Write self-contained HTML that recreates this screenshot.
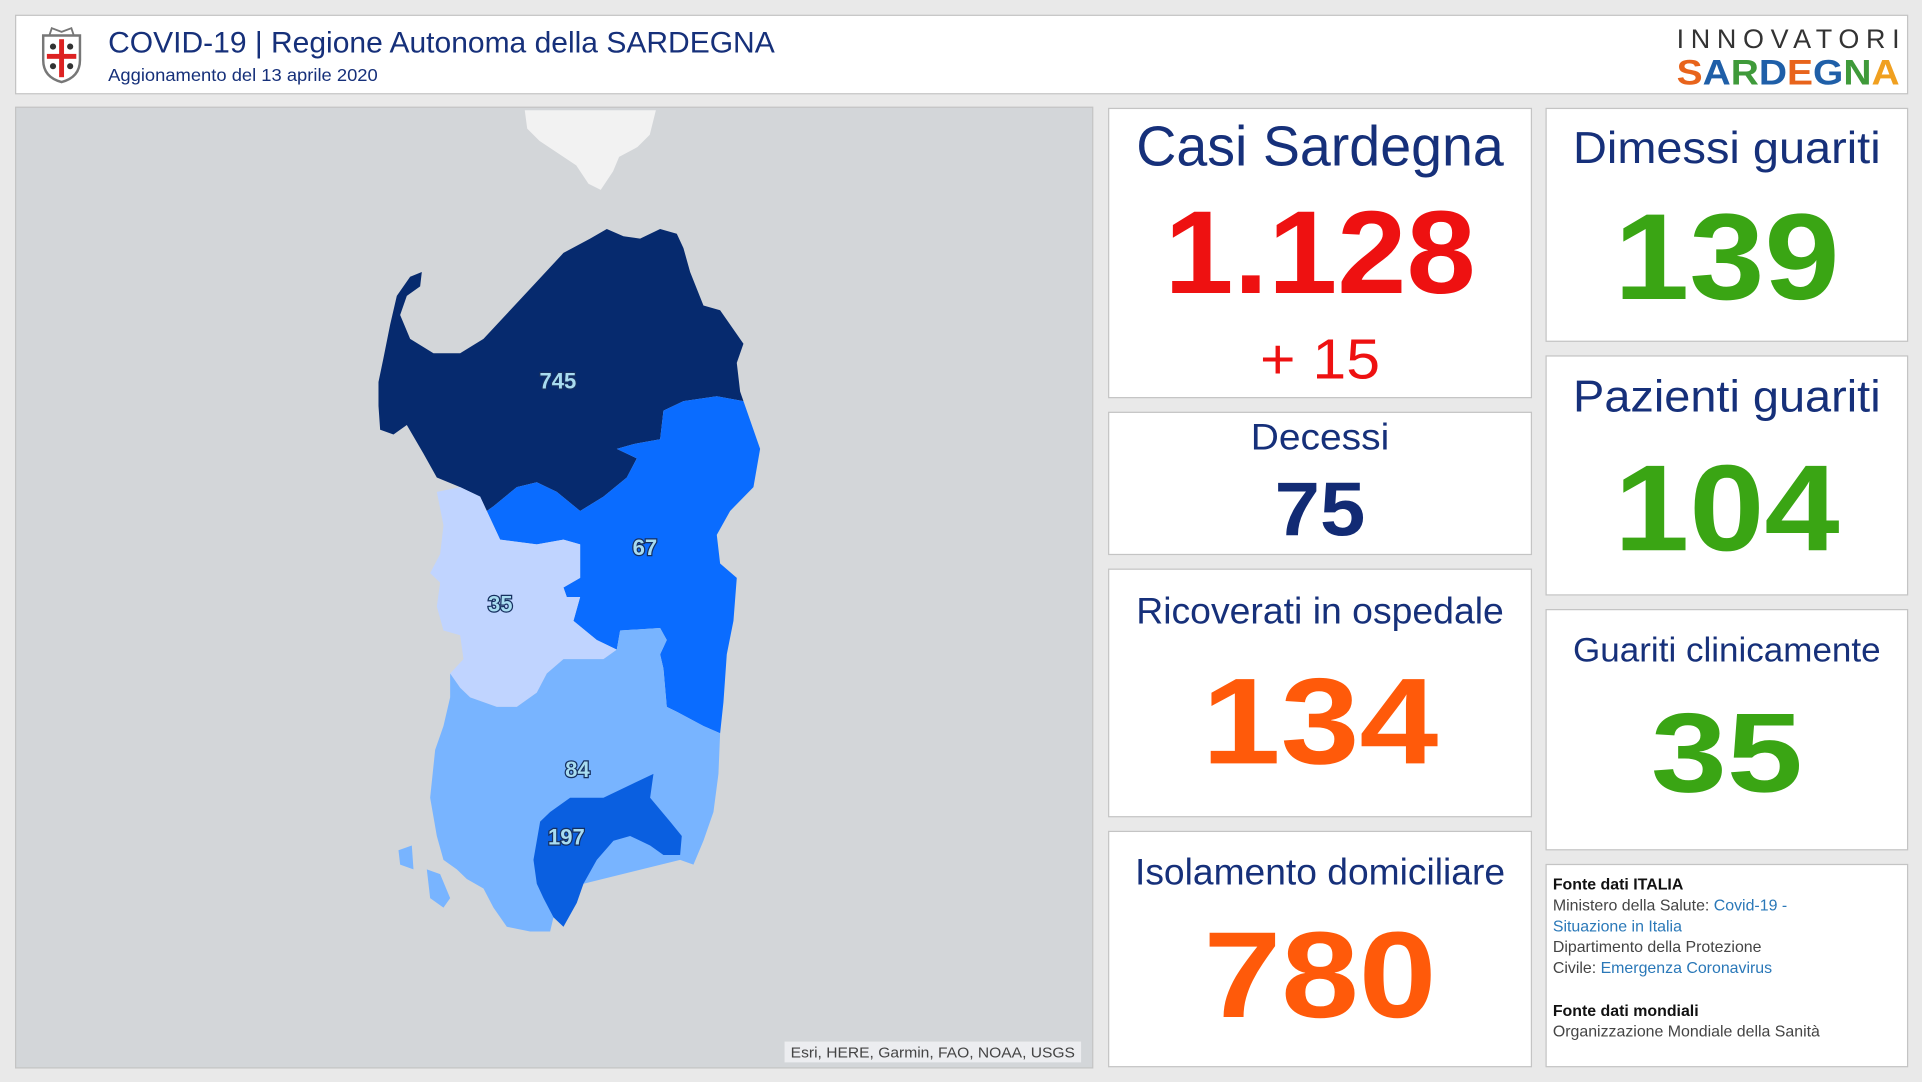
<!DOCTYPE html>
<html><head><meta charset="utf-8"><style>
html,body{margin:0;padding:0;background:#e9e9e9;overflow:hidden}
svg{display:block}
text{font-family:"Liberation Sans",sans-serif}
</style></head><body>
<svg width="1922" height="1082" viewBox="0 0 1568 883" xmlns="http://www.w3.org/2000/svg">
<rect width="1568" height="883" fill="#e9e9e9"/>
<rect x="12.5" y="12.5" width="1544" height="64" fill="#fff" stroke="#c4c4c4"/>
<g transform="translate(50,45)">
<path d="M-15,-16 L15,-16 L15,4 Q15,18 0,22 Q-15,18 -15,4 Z" fill="#fff" stroke="#777" stroke-width="2"/>
<rect x="-2" y="-13" width="4" height="31" fill="#d22"/><rect x="-12" y="-1" width="24" height="4" fill="#d22"/>
<circle cx="-7" cy="-7" r="2.5" fill="#333"/><circle cx="7" cy="-7" r="2.5" fill="#333"/><circle cx="-7" cy="9" r="2.5" fill="#333"/><circle cx="7" cy="9" r="2.5" fill="#333"/>
<path d="M-10,-16 L-8,-22 L0,-19 L8,-22 L10,-16" fill="none" stroke="#777" stroke-width="1.5"/>
</g>
<text x="88" y="43" font-size="24" fill="#16307a" textLength="544" lengthAdjust="spacingAndGlyphs">COVID-19 | Regione Autonoma della SARDEGNA</text>
<text x="88" y="66" font-size="14" fill="#16307a" textLength="220" lengthAdjust="spacingAndGlyphs">Aggionamento del 13 aprile 2020</text>
<text x="1368" y="39" font-size="22" fill="#333" textLength="182" lengthAdjust="spacing">INNOVATORI</text>
<text x="1368" y="69" font-size="29" font-weight="bold" textLength="182" lengthAdjust="spacingAndGlyphs"><tspan fill="#e8641c">S</tspan><tspan fill="#1f5fa8">A</tspan><tspan fill="#3f9a3a">R</tspan><tspan fill="#1f5fa8">D</tspan><tspan fill="#e8641c">E</tspan><tspan fill="#1f5fa8">G</tspan><tspan fill="#3f9a3a">N</tspan><tspan fill="#f0a020">A</tspan></text>
<rect x="12.5" y="87.5" width="879" height="784" fill="#d3d6d9" stroke="#c4c4c4"/>
<path d="M428,90 L535,90 L530,110 L520,120 L505,128 L500,140 L490,155 L480,150 L470,135 L455,125 L440,115 L430,105 Z" fill="#f2f2f2"/>
<g transform="translate(285.5,163.5) scale(0.272,0.39)">
<path fill="#062a6e" d="M85,380 L100,330 L120,260 L140,200 L180,160 L215,150 L210,180 L170,200 L150,240 L180,290 L250,320 L330,320 L400,290 L480,230 L560,170 L640,110 L720,80 L770,60 L820,75 L870,80 L930,60 L980,70 L1000,100 L1020,150 L1060,220 L1110,230 L1150,270 L1180,300 L1160,340 L1170,400 L1180,420 L1100,410 L1000,420 L940,440 L930,500 L850,510 L800,520 L860,540 L830,580 L760,620 L690,650 L620,610 L560,590 L500,600 L430,640 L410,650 L390,620 L330,600 L260,580 L220,530 L170,470 L130,490 L90,480 L85,430 Z"/>
<path fill="#0a6cff" d="M1100,410 L1180,420 L1210,480 L1230,520 L1210,600 L1140,650 L1100,700 L1110,760 L1160,790 L1150,880 L1130,950 L1120,1050 L1110,1115 L1060,1100 L980,1070 L950,1060 L940,980 L930,950 L950,920 L930,895 L810,900 L800,940 L740,920 L670,880 L690,830 L650,830 L640,810 L690,790 L690,720 L640,710 L560,720 L450,710 L410,650 L430,640 L500,600 L560,590 L620,610 L690,650 L760,620 L830,580 L860,540 L800,520 L850,510 L930,500 L940,440 L1000,420 Z"/>
<path fill="#c0d4ff" d="M260,610 L330,600 L390,620 L410,650 L450,710 L560,720 L640,710 L690,720 L690,790 L640,810 L650,830 L690,830 L670,880 L740,920 L800,940 L760,960 L700,960 L640,960 L590,990 L560,1030 L500,1060 L440,1060 L360,1040 L330,1020 L300,990 L340,960 L330,910 L280,900 L260,850 L270,800 L240,780 L270,740 L280,680 Z"/>
<path fill="#78b4ff" d="M300,990 L330,1020 L360,1040 L440,1060 L500,1060 L560,1030 L590,990 L640,960 L700,960 L760,960 L800,940 L810,900 L930,895 L950,920 L930,950 L940,980 L950,1060 L980,1070 L1060,1100 L1110,1115 L1105,1200 L1090,1280 L1060,1340 L1030,1390 L990,1380 L700,1430 L640,1520 L610,1500 L600,1530 L540,1530 L470,1520 L430,1480 L400,1440 L350,1420 L320,1400 L280,1380 L260,1330 L240,1250 L255,1150 L280,1100 L300,1040 Z"/>
<path fill="#0a5fe0" d="M550,1380 L570,1300 L600,1280 L660,1250 L760,1250 L850,1220 L910,1200 L900,1250 L960,1300 L995,1330 L990,1370 L940,1370 L900,1350 L840,1330 L790,1340 L740,1380 L700,1430 L680,1470 L640,1520 L610,1500 L580,1460 L560,1430 Z"/>
<path fill="#78b4ff" d="M145,1360 L185,1350 L190,1400 L150,1390 Z M230,1400 L270,1410 L300,1460 L280,1480 L240,1460 Z"/>
</g>
<g font-size="18" font-weight="bold" fill="#a8dcf0" stroke="#163060" stroke-width="2" paint-order="stroke" text-anchor="middle">
<text x="455" y="317">745</text><text x="526" y="453">67</text><text x="408" y="499">35</text><text x="471" y="634">84</text><text x="462" y="689">197</text>
</g>
<rect x="640" y="850" width="242" height="17" fill="#eef0f2" opacity="0.9"/>
<text x="645" y="863" font-size="12" fill="#444" textLength="232" lengthAdjust="spacingAndGlyphs">Esri, HERE, Garmin, FAO, NOAA, USGS</text>
<g fill="#fff" stroke="#c4c4c4">
<rect x="904.5" y="88.5" width="345" height="236"/>
<rect x="904.5" y="336.5" width="345" height="116"/>
<rect x="904.5" y="464.5" width="345" height="202"/>
<rect x="904.5" y="678.5" width="345" height="192"/>
<rect x="1261.5" y="88.5" width="295" height="190"/>
<rect x="1261.5" y="290.5" width="295" height="195"/>
<rect x="1261.5" y="497.5" width="295" height="196"/>
<rect x="1261.5" y="705.5" width="295" height="165"/>
</g>
<g text-anchor="middle">
<text x="1077" y="135" font-size="46" fill="#16307a" textLength="300" lengthAdjust="spacingAndGlyphs">Casi Sardegna</text>
<text x="1077" y="239" font-size="96" font-weight="bold" fill="#ee1111" textLength="254" lengthAdjust="spacingAndGlyphs">1.128</text>
<text x="1077" y="309" font-size="46" fill="#ee1111" textLength="98" lengthAdjust="spacingAndGlyphs">+ 15</text>
<text x="1077" y="367" font-size="30" fill="#16307a" textLength="113" lengthAdjust="spacingAndGlyphs">Decessi</text>
<text x="1077" y="437" font-size="62" font-weight="bold" fill="#122b74" textLength="74" lengthAdjust="spacingAndGlyphs">75</text>
<text x="1077" y="509" font-size="30" fill="#16307a" textLength="300" lengthAdjust="spacingAndGlyphs">Ricoverati in ospedale</text>
<text x="1077" y="623" font-size="100" font-weight="bold" fill="#ff5a0a" textLength="193" lengthAdjust="spacingAndGlyphs">134</text>
<text x="1077" y="722" font-size="30" fill="#16307a" textLength="302" lengthAdjust="spacingAndGlyphs">Isolamento domiciliare</text>
<text x="1077" y="830" font-size="100" font-weight="bold" fill="#ff5a0a" textLength="190" lengthAdjust="spacingAndGlyphs">780</text>
<text x="1409" y="133" font-size="36" fill="#16307a" textLength="251" lengthAdjust="spacingAndGlyphs">Dimessi guariti</text>
<text x="1409" y="244" font-size="100" font-weight="bold" fill="#3aa514" textLength="184" lengthAdjust="spacingAndGlyphs">139</text>
<text x="1409" y="336" font-size="36" fill="#16307a" textLength="251" lengthAdjust="spacingAndGlyphs">Pazienti guariti</text>
<text x="1409" y="449" font-size="100" font-weight="bold" fill="#3aa514" textLength="184" lengthAdjust="spacingAndGlyphs">104</text>
<text x="1409" y="540" font-size="28" fill="#16307a" textLength="251" lengthAdjust="spacingAndGlyphs">Guariti clinicamente</text>
<text x="1409" y="646" font-size="92" font-weight="bold" fill="#3aa514" textLength="124" lengthAdjust="spacingAndGlyphs">35</text>
</g>
<g font-size="13" fill="#444">
<text x="1267" y="726" font-weight="bold" fill="#111">Fonte dati ITALIA</text>
<text x="1267" y="743">Ministero della Salute: <tspan fill="#2a78b8">Covid-19 -</tspan></text>
<text x="1267" y="760" fill="#2a78b8">Situazione in Italia</text>
<text x="1267" y="777">Dipartimento della Protezione</text>
<text x="1267" y="794">Civile: <tspan fill="#2a78b8">Emergenza Coronavirus</tspan></text>
<text x="1267" y="829" font-weight="bold" fill="#111">Fonte dati mondiali</text>
<text x="1267" y="846">Organizzazione Mondiale della Sanità</text>
</g>
</svg>
</body></html>
